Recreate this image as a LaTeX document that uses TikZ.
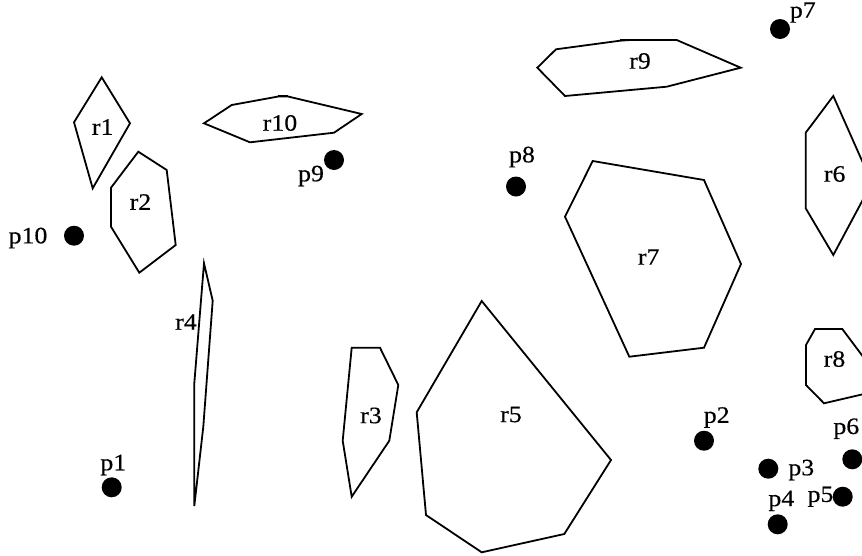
\documentclass[tikz,border=0pt]{standalone}
\usepackage{fontspec}
\setmainfont{Liberation Serif}[FakeStretch=1.1,FakeBold=0.4]
\begin{document}
\begin{tikzpicture}[x=1pt,y=-1pt,
  region/.style={draw=black,line width=1.8pt,line join=miter},
  pt/.style={fill=black},
  lbl/.style={inner sep=0pt,font=\fontsize{23.5}{26}\selectfont}]
\useasboundingbox (0,0) rectangle (862,555);
\clip (0,0) rectangle (862,555);
% regions
\draw[region] (101.7,77.3) -- (130,123.3) -- (92.7,188.3) -- (74,122.3) -- cycle;
\draw[region] (138.3,151.7) -- (166.7,170) -- (175.7,245) -- (139.3,272.7) -- (111,226.7) -- (111,187.7) -- cycle;
\draw[region] (204,123.3) -- (231.7,105) -- (278.3,96.5) -- (288,96.5) -- (361.7,114) -- (334,132.7) -- (250,142.3) -- cycle;
\draw[region] (278.3,95.5) -- (288,95.5);
\draw[region] (204,263.3) -- (212.7,300.7) -- (203.3,426.7) -- (194.3,506) -- (194.3,383.3) -- cycle;
\draw[region] (351.7,347.7) -- (380,347.7) -- (398.3,385) -- (389.3,440.7) -- (351.7,496.7) -- (342.7,440.7) -- cycle;
\draw[region] (481.7,301) -- (611,460) -- (564.3,534) -- (481.7,552.3) -- (426,515) -- (416.7,412.3) -- cycle;
\draw[region] (833.3,96) -- (867,172) -- (867,192) -- (833.3,255) -- (805.7,208.3) -- (805.7,132.7) -- cycle;
\draw[region] (592.7,161) -- (704,180) -- (741,264) -- (704,347.7) -- (629.3,356.7) -- (565,216.7) -- cycle;
\draw[region] (815,329) -- (842.3,329) -- (864,358) -- (864,394) -- (824,403.3) -- (806,385) -- (806,345) -- cycle;
\draw[region] (537.3,67.7) -- (556,49.3) -- (620,40.7) -- (630,40) -- (676.7,40) -- (740.7,67.7) -- (666.7,86.7) -- (565,96) -- cycle;
\draw[region] (620,39.8) -- (630,39.8);
% region labels
\node[lbl] (r1) at (102.7,127) {r1};
\node[lbl] (r2) at (140.5,202) {r2};
\node[lbl] (r3) at (371,415.5) {r3};
\node[lbl] (r4) at (186,322) {r4};
\node[lbl] (r5) at (511,414.5) {r5};
\node[lbl] (r6) at (834.7,174) {r6};
\node[lbl] (r7) at (648.7,257) {r7};
\node[lbl] (r8) at (834.5,359) {r8};
\node[lbl] (r9) at (640,61) {r9};
\node[lbl] (r10) at (280,123) {r10};
% points
\fill[pt] (111.7,487.3) circle (10);
\fill[pt] (704,440.7) circle (10);
\fill[pt] (768.3,468.7) circle (10);
\fill[pt] (777.7,524.3) circle (10);
\fill[pt] (842.7,496.7) circle (10);
\fill[pt] (852.3,459.3) circle (10);
\fill[pt] (780,29) circle (10);
\fill[pt] (516,186.5) circle (10);
\fill[pt] (334,160) circle (10);
\fill[pt] (74,235.7) circle (10);
% point labels
\node[lbl] (p1) at (113.3,465) {p1};
\node[lbl] (p2) at (716.7,417.5) {p2};
\node[lbl] (p3) at (801.3,470) {p3};
\node[lbl] (p4) at (781.3,500.8) {p4};
\node[lbl] (p5) at (820.5,496.7) {p5};
\node[lbl] (p6) at (846.3,428.7) {p6};
\node[lbl] (p7) at (802.8,12.5) {p7};
\node[lbl] (p8) at (522,157) {p8};
\node[lbl] (p9) at (311,176) {p9};
\node[lbl] (p10) at (28,238) {p10};
\end{tikzpicture}
\end{document}
